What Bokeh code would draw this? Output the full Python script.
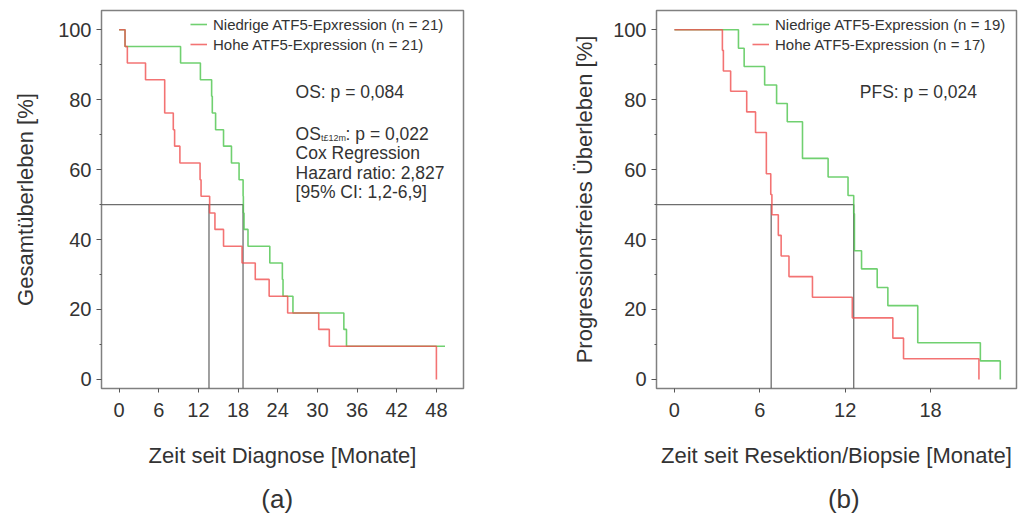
from bokeh.plotting import figure
from bokeh.models import (Range1d, FixedTicker, Legend, LegendItem, Label,
                          ColumnDataSource)
from bokeh.core.properties import value
from bokeh.layouts import row, column
from bokeh.embed import file_html
from bokeh.resources import INLINE

# ---------------- data ----------------
# (a) overall survival (months, %)
os_low_t = [0, 0.9, 9.3, 12.3, 14.0, 14.1, 14.6, 15.8, 17.0, 18.15, 18.76, 18.8, 18.9,
            19.5, 22.8, 24.7, 24.8, 26.3, 34.0, 34.4, 49.3]
os_low_s = [100, 95.2, 90.5, 85.7, 81.0, 76.2, 71.4, 66.7, 61.9, 57.1, 52.4, 47.6, 42.9,
            38.1, 33.3, 28.6, 23.8, 19.0, 14.3, 9.5, 9.5]
os_high_t = [0, 0.9, 1.25, 4.0, 6.9, 8.2, 8.4, 9.2, 12.25, 12.4, 13.7, 14.5, 15.8, 18.6,
             20.6, 22.7, 25.5, 30.2, 31.8, 48.0]
os_high_s = [100, 95.2, 90.5, 85.7, 76.2, 71.4, 66.7, 61.9, 57.1, 52.4, 47.6, 42.9, 38.1,
             33.3, 28.6, 23.8, 19.0, 14.3, 9.5, 0]
os_medians = [13.6, 18.75]          # high, low
os_xticks = [0, 6, 12, 18, 24, 30, 36, 42, 48]

# (b) progression-free survival (months, %)
pfs_low_t = [0, 4.5, 4.9, 6.34, 7.18, 7.93, 9.0, 10.8, 12.2, 12.6, 12.65, 13.15, 14.25,
             15.0, 17.1, 21.5, 22.9]
pfs_low_s = [100, 94.7, 89.5, 84.2, 78.9, 73.7, 63.2, 57.9, 52.6, 47.4, 36.8, 31.6, 26.3,
             21.1, 10.5, 5.3, 0]
pfs_high_t = [0, 3.37, 3.44, 3.95, 5.08, 5.7, 6.46, 6.77, 6.85, 7.3, 7.5, 8.05, 9.7,
              12.5, 15.35, 16.1, 21.4]
pfs_high_s = [100, 94.1, 88.2, 82.4, 76.5, 70.6, 58.8, 52.9, 47.1, 41.2, 35.3, 29.4, 23.5,
              17.6, 11.8, 5.9, 0]
pfs_medians = [6.8, 12.6]
pfs_xticks = [0, 6, 12, 18]

yticks = [0, 20, 40, 60, 80, 100]
yminor = [10, 30, 50, 70, 90]

captions = ["(a)", "(b)"]

FONT = "Liberation Sans"
TXT = "#333333"
GREEN = "#4cc44c"
RED = "#f05050"
GRAY = "#555555"

W1, W2 = 560, 459
H_MAIN, H_CAP = 479, 40


def panel(width, bl, br, xr, yr, xticks, low_t, low_s, high_t, high_s, medians,
          legend_labels, legend_pos, xlabel, ylabel, ylab_standoff):
    p = figure(width=width, height=H_MAIN, output_backend="svg", toolbar_location=None,
               x_range=Range1d(*xr), y_range=Range1d(*yr),
               min_border_left=bl, min_border_right=br, min_border_top=10,
               min_border_bottom=H_MAIN - 388)
    p.grid.visible = False
    p.outline_line_color = "#808080"
    p.outline_line_width = 1.5
    p.background_fill_color = "white"
    p.border_fill_color = "white"

    for ax in (p.xaxis[0], p.yaxis[0]):
        ax.axis_line_color = None
        ax.major_tick_line_color = "#555555"
        ax.minor_tick_line_color = "#555555"
        ax.major_tick_in = 0
        ax.minor_tick_in = 0
        ax.major_label_text_font = FONT
        ax.major_label_text_font_size = "20px"
        ax.major_label_text_color = TXT
        ax.axis_label_text_font = FONT
        ax.axis_label_text_font_size = "22px"
        ax.axis_label_text_font_style = "normal"
        ax.axis_label_text_color = TXT
    p.yaxis.ticker = FixedTicker(ticks=yticks, minor_ticks=yminor)
    p.yaxis.major_tick_out = 5
    p.yaxis.minor_tick_out = 2
    p.yaxis.major_label_standoff = 5
    p.yaxis.axis_label_standoff = ylab_standoff
    p.yaxis.axis_label = ylabel
    p.xaxis.ticker = FixedTicker(ticks=xticks, minor_ticks=[])
    p.xaxis.major_tick_out = 4
    p.xaxis.major_label_standoff = 10
    p.xaxis.axis_label_standoff = 23
    p.xaxis.axis_label = xlabel

    # median reference lines
    m_hi = max(medians)
    p.segment(x0=[xr[0]], y0=[50], x1=[m_hi], y1=[50], line_color=GRAY,
              line_width=1.3, line_alpha=0.85)
    p.segment(x0=medians, y0=[50, 50], x1=medians, y1=[yr[0], yr[0]],
              line_color=GRAY, line_width=1.3, line_alpha=0.85)

    src_low = ColumnDataSource(dict(t=low_t, s=low_s))
    src_high = ColumnDataSource(dict(t=high_t, s=high_s))
    r_low = p.step(x="t", y="s", source=src_low, mode="after", line_color=GREEN,
                   line_width=1.6, line_alpha=0.8)
    r_high = p.step(x="t", y="s", source=src_high, mode="after", line_color=RED,
                    line_width=1.6, line_alpha=0.8)

    leg = Legend(items=[LegendItem(label=legend_labels[0], renderers=[r_low]),
                        LegendItem(label=legend_labels[1], renderers=[r_high])],
                 location=legend_pos, label_text_font=FONT, label_text_font_size="15px",
                 label_text_color=TXT, label_height=20, glyph_height=20, glyph_width=17,
                 label_standoff=6, spacing=0, padding=2, margin=0,
                 background_fill_alpha=0, border_line_color=None)
    p.add_layout(leg)
    return p


pa = panel(W1, 101, 97, (-2.66, 52.1), (-2.6, 105.5), os_xticks,
           os_low_t, os_low_s, os_high_t, os_high_s, os_medians,
           ["Niedrige ATF5-Epxression (n = 21)", "Hohe ATF5-Expression (n = 21)"],
           (89, 334), "Zeit seit Diagnose [Monate]", "Gesamtüberleben [%]", 17)

pb = panel(W2, 96, 3, (-1.26, 24.04), (-2.6, 105.5), pfs_xticks,
           pfs_low_t, pfs_low_s, pfs_high_t, pfs_high_s, pfs_medians,
           ["Niedrige ATF5-Expression (n = 19)", "Hohe ATF5-Expression (n = 17)"],
           (96, 334), "Zeit seit Resektion/Biopsie [Monate]",
           "Progressionsfreies Überleben [%]", 13)


def lab(p, x, y, text, size="17.5px", xoff=0):
    p.add_layout(Label(x=x, y=y, x_offset=xoff, text=text, text_font=FONT,
                       text_font_size=size, text_color=TXT, text_baseline="middle"))


ax0 = 26.7
lab(pa, ax0, 82.2, "OS: p = 0,084")
lab(pa, ax0, 70.3, "OS")
lab(pa, ax0, 69.0, "t£12m", size="9px", xoff=25.5)
lab(pa, ax0, 70.3, ": p = 0,022", xoff=50)
lab(pa, ax0, 64.7, "Cox Regression")
lab(pa, ax0, 59.0, "Hazard ratio: 2,827")
lab(pa, ax0, 53.6, "[95% CI: 1,2-6,9]")
lab(pb, 13.03, 82.2, "PFS: p = 0,024")

# caption strip below both panels (pixel coordinates of the page)
cap = figure(width=W1 + W2, height=H_CAP, output_backend="svg", toolbar_location=None,
             x_range=Range1d(0, W1 + W2), y_range=Range1d(0, H_CAP),
             min_border=0, x_axis_type=None, y_axis_type=None)
cap.grid.visible = False
cap.outline_line_color = None
cap.text(x=[276.7, 843.3], y=[H_CAP - 19, H_CAP - 19], text=captions,
         text_font=value(FONT), text_font_size="26px", text_color=TXT,
         text_align="center", text_baseline="middle")

layout = column(row(pa, pb), cap)
open("out.html", "w").write(file_html(layout, INLINE))
